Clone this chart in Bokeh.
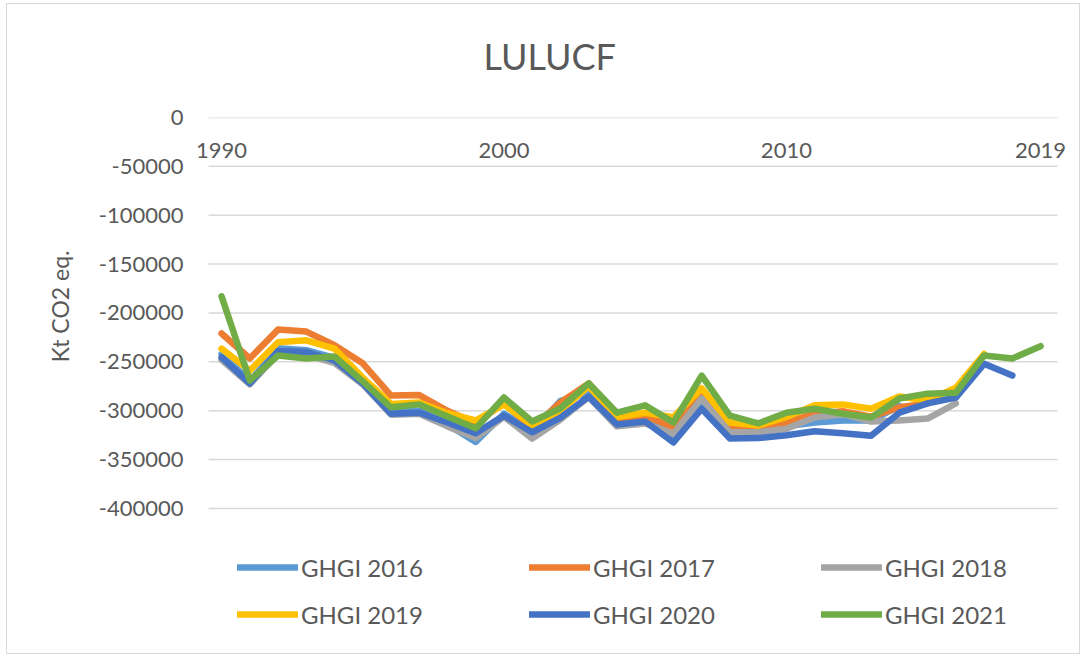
from bokeh.plotting import figure
from bokeh.models import (ColumnDataSource, FixedTicker, NumeralTickFormatter, Legend,
                          LegendItem, Range1d, Title)
from bokeh.core.properties import value
from bokeh.embed import file_html
from bokeh.resources import INLINE

NaN = float("nan")

years = list(range(1990, 2020))
x_tick_years = [1990, 2000, 2010, 2019]
x_tick_labels = ["1990", "2000", "2010", "2019"]
y_ticks = list(range(-400000, 1, 50000))

series_names = ["GHGI 2016", "GHGI 2017", "GHGI 2018", "GHGI 2019", "GHGI 2020", "GHGI 2021"]
series_colors = ["#5B9BD5", "#ED7D31", "#A5A5A5", "#FFC000", "#4472C4", "#70AD47"]

ghgi_2016 = [-242000, -270000, -236000, -238000, -246000, -270000, -301000, -300000, -314000, -332000,
             -303000, -321000, -290000, -282000, -313000, -309000, -325000, -293000, -323000, -322000,
             -316000, -312000, -310000, -310000, -295000]
ghgi_2017 = [-221000, -246500, -217000, -219000, -233000, -251500, -284500, -284000, -300000, -313000,
             -292000, -318000, -291500, -272000, -308000, -305000, -317000, -284500, -318500, -320000,
             -312000, -303000, -300500, -306000, -296500, -292500]
ghgi_2018 = [-248000, -273000, -242000, -243000, -251000, -273000, -304000, -303000, -316000, -328000,
             -306000, -328500, -309000, -286000, -316000, -313000, -323500, -287500, -322000, -322000,
             -318500, -307000, -303500, -311000, -310000, -308000, -292500]
ghgi_2019 = [-236500, -259000, -230000, -228000, -236500, -266000, -293000, -291500, -302500, -310000,
             -293500, -315000, -300000, -275000, -306500, -302000, -306500, -277000, -312000, -315000,
             -306500, -294500, -293500, -298000, -285500, -289500, -276500, -242000]
ghgi_2020 = [-245500, -272000, -239000, -240000, -248500, -272000, -303000, -302000, -312000, -323000,
             -305000, -322000, -307000, -285500, -314000, -311000, -332500, -298000, -328500, -328000,
             -325000, -321000, -323000, -325500, -302000, -292500, -286500, -252000, -264000]
ghgi_2021 = [-183000, -269000, -243500, -246500, -244500, -270000, -296500, -293500, -306000, -318000,
             -286500, -311000, -297500, -272000, -302000, -294500, -312000, -264000, -305000, -313000,
             -302000, -298000, -303000, -307000, -287500, -282500, -281500, -243500, -246500, -234000]

series_values = [ghgi_2016, ghgi_2017, ghgi_2018, ghgi_2019, ghgi_2020, ghgi_2021]

FONT = "Lato"
TXT = "#595959"
GRID = "#d9d9d9"

# plot-area extent (category axis "between tick marks")
grid_x0 = years[0] - 0.46
grid_x1 = years[-1] + 0.60

# value range of the plot area is -400000..0; the frame is extended downwards to hold the legend
p = figure(width=1074, height=651, output_backend="svg", toolbar_location=None,
           x_range=Range1d(years[0] - 1.10, years[-1] + 1.06),
           y_range=Range1d(-550400, 0),
           x_axis_location=None, title=None,
           min_border_left=183, min_border_right=11, min_border_top=113, min_border_bottom=0)
p.styles = {"border": "1px solid #d9d9d9", "margin-left": "6px", "margin-top": "3px"}
p.outline_line_color = None
p.background_fill_color = "white"
p.border_fill_color = "white"
p.xgrid.visible = False
p.ygrid.visible = False

# y axis
yax = p.yaxis[0]
yax.ticker = FixedTicker(ticks=y_ticks)
yax.formatter = NumeralTickFormatter(format="0")
yax.axis_line_color = None
yax.major_tick_line_color = None
yax.minor_tick_line_color = None
yax.major_tick_out = 0
yax.major_tick_in = 0
yax.major_label_standoff = 7
yax.major_label_text_font = FONT
yax.major_label_text_font_size = "22px"
yax.major_label_text_color = TXT

# value-axis title, placed alongside the -400000..0 part of the axis
p.add_layout(Title(text="Kt CO2 eq.", align="right", offset=133, vertical_align="middle",
                   text_font=FONT, text_font_size="23px", text_font_style="normal",
                   text_color=TXT, standoff=42), "left")

# horizontal gridlines at the value-axis ticks
grid_src = ColumnDataSource(dict(x0=[grid_x0] * len(y_ticks), x1=[grid_x1] * len(y_ticks),
                                 y=y_ticks))
p.segment(x0="x0", y0="y", x1="x1", y1="y", source=grid_src, line_color=GRID, line_width=1.5)

# category labels just below the zero line (axis crosses at 0)
lab_src = ColumnDataSource(dict(x=x_tick_years, y=[-34000] * len(x_tick_years), t=x_tick_labels))
p.text(x="x", y="y", text="t", source=lab_src, text_align="center", text_baseline="middle",
       text_font=value(FONT), text_font_size="22px", text_color=TXT)

items = []
for name, color, vals in zip(series_names, series_colors, series_values):
    ys = list(vals) + [NaN] * (len(years) - len(vals))
    src = ColumnDataSource(dict(x=years, y=ys))
    r = p.line("x", "y", source=src, line_color=color, line_width=6.5,
               line_join="round", line_cap="round")
    items.append(LegendItem(label=name, renderers=[r]))

legend = Legend(items=items, location=(47, 26), orientation="horizontal", ncols=3,
                glyph_width=61, glyph_height=30, label_height=30, label_width=211,
                label_standoff=3, spacing=17, padding=0, margin=0,
                label_text_font=FONT, label_text_font_size="24px", label_text_color=TXT,
                border_line_color=None, background_fill_alpha=0)
p.add_layout(legend)

# spacer between plot area and title, then the title itself
p.add_layout(Title(text=" ", text_font_size="20px", standoff=11), "above")
p.add_layout(Title(text="LULUCF", align="left", offset=293, text_font=FONT,
                   text_font_size="36px", text_font_style="normal", text_color=TXT,
                   standoff=10), "above")

open("out.html", "w").write(file_html(p, INLINE))
